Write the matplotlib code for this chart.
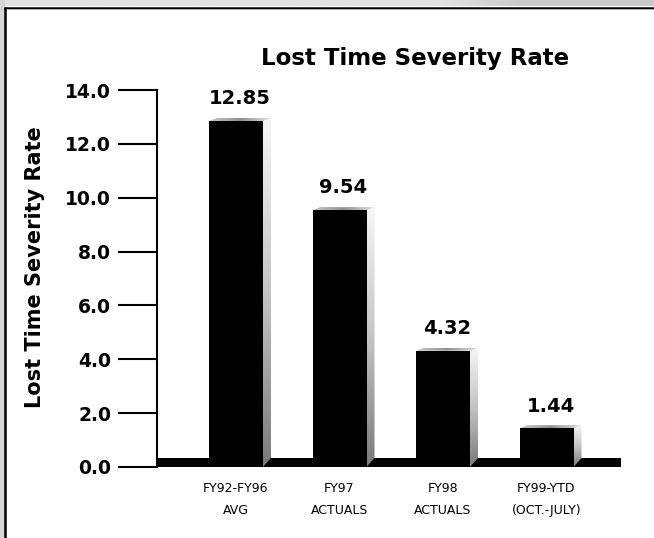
import numpy as np
import matplotlib
matplotlib.use('Agg')
import matplotlib.pyplot as plt
from matplotlib.colors import LinearSegmentedColormap
from matplotlib.patches import Polygon, Rectangle
from matplotlib.lines import Line2D

plt.rcParams['font.family'] = ['DejaVu Sans']

categories = ['FY92-FY96\nAVG', 'FY97\nACTUALS', 'FY98\nACTUALS', 'FY99-YTD\n(OCT.-JULY)']
rates = [12.85, 9.54, 4.32, 1.44]
value_labels = ['12.85', '9.54', '4.32', '1.44']
yticks = [0, 2, 4, 6, 8, 10, 12, 14]

W, H = 654, 538
fig = plt.figure(figsize=(W / 100, H / 100), dpi=100)
fig.patch.set_facecolor('white')


def px(x, y):
    """pixel position (from top-left) -> figure fraction"""
    return x / W, 1 - y / H


# page frame: grey strip along the top and left, black edge on the sheet
strip_ax = fig.add_axes([0, 1 - 6.5 / H, 1, 6.5 / H], zorder=-10)
strip_ax.axis('off')
strip = np.clip((np.linspace(0, 1, 300)[None, :] - 0.68) / 0.12, 0, 1)
strip_ax.imshow(strip, cmap=LinearSegmentedColormap.from_list('strip', ['#e2e2e2', '#c9c9c9']),
                aspect='auto', extent=(0, 1, 0, 1))
fig.patches.append(Rectangle((0, 0), 4.5 / W, 1, transform=fig.transFigure,
                             facecolor='#d6d6d6', edgecolor='none', zorder=-9))
fig.lines.append(Line2D([4 / W, 1], [1 - 7.5 / H] * 2, transform=fig.transFigure,
                        color='black', lw=1.8, solid_capstyle='butt', zorder=-8))
fig.lines.append(Line2D([0, 1], [1 - 9.3 / H] * 2, transform=fig.transFigure,
                        color='#c8c8c8', lw=0.6, zorder=-8))
fig.lines.append(Line2D([5.2 / W] * 2, [0, 1 - 6.6 / H], transform=fig.transFigure,
                        color='black', lw=1.8, solid_capstyle='butt', zorder=-8))

# plot area
left, right, top, bottom = 157, 621, 90, 467
ax = fig.add_axes([left / W, (H - bottom) / H, (right - left) / W, (bottom - top) / H])
ax.set_facecolor('none')

ppu_x = 103.5
xmin = -(236 - left) / ppu_x
xmax = xmin + (right - left) / ppu_x
ppu_y = (bottom - top) / 14.0

bar_w = 54 / ppu_x
dx = 8 / ppu_x
dy = 3 / ppu_y
floor = 9 / ppu_y

side_cmap = LinearSegmentedColormap.from_list('side', ['#f6f6f6', '#c4c4c4', '#7a7a7a'])
top_cmap = LinearSegmentedColormap.from_list('topf', ['#c8c8c8', '#909090', '#e0e0e0'])

# floor band
ax.add_patch(Rectangle((xmin, 0), xmax - xmin, floor, facecolor='black', edgecolor='none', zorder=2))

for i, v in enumerate(rates):
    x0 = i - bar_w / 2
    x1 = i + bar_w / 2
    ax.add_patch(Rectangle((x0, 0), bar_w, v, facecolor='black', edgecolor='none', zorder=4))
    # side face, light at the top fading to grey
    side = Polygon([(x1, v), (x1 + dx, v + dy), (x1 + dx, floor), (x1, 0)], closed=True,
                   facecolor='none', edgecolor='none')
    ax.add_patch(side)
    grad = np.linspace(0, 1, 200)[:, None]
    im = ax.imshow(grad, extent=(x1, x1 + dx, 0, v + dy), cmap=side_cmap, aspect='auto',
                   origin='upper', zorder=3)
    im.set_clip_path(side)
    # top face
    topf = Polygon([(x0, v), (x0 + dx, v + dy), (x1 + dx, v + dy), (x1, v)], closed=True,
                   facecolor='none', edgecolor='none')
    ax.add_patch(topf)
    hgrad = np.linspace(0, 1, 200)[None, :]
    im2 = ax.imshow(hgrad, extent=(x0, x1 + dx, v, v + dy), cmap=top_cmap, aspect='auto', zorder=3)
    im2.set_clip_path(topf)
    ax.annotate(value_labels[i], (i + dx / 2, v + dy), xytext=(0, 7), textcoords='offset points',
                ha='center', va='bottom', fontsize=14, fontweight='bold', zorder=5)

ax.set_xlim(xmin, xmax)
ax.set_ylim(0, 14)
ax.set_yticks(yticks, [f'{t:.1f}' for t in yticks])
ax.set_xticks(range(len(categories)), categories)
for lbl in ax.get_xticklabels():
    lbl.set_fontsize(9)
    lbl.set_linespacing(1.9)
ax.tick_params(axis='x', length=0, pad=11)
ax.tick_params(axis='y', length=28, width=1.5, pad=5, labelsize=13.5)
for lbl in ax.get_yticklabels():
    lbl.set_fontweight('bold')
for s in ['top', 'right', 'bottom']:
    ax.spines[s].set_visible(False)
ax.spines['left'].set_linewidth(1.5)
ax.spines['left'].set_zorder(1)

fig.text(*px(415, 58), 'Lost Time Severity Rate', ha='center', va='center',
         fontsize=16.5, fontweight='bold')
fig.text(*px(35, 267), 'Lost Time Severity Rate', ha='center', va='center',
         rotation=90, fontsize=15, fontweight='bold')

fig.savefig('out.png', dpi=100, facecolor=fig.get_facecolor())
